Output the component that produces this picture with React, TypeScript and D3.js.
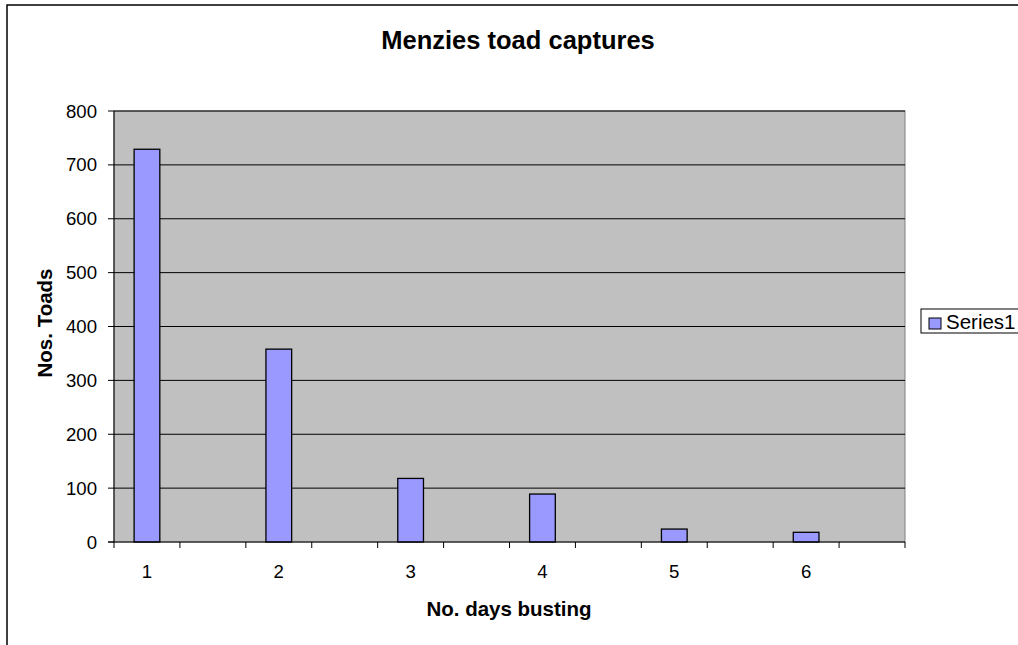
import React from 'react';
import * as d3 from 'd3';

// 12 category slots; only every other one holds a value
const categories = ['1', '', '2', '', '3', '', '4', '', '5', '', '6', ''];
const toadCounts: (number | null)[] = [729, null, 358, null, 118, null, 89, null, 24, null, 18, null];
const yTicks = [0, 100, 200, 300, 400, 500, 600, 700, 800];
const seriesName = 'Series1';

const W = 1018;
const H = 645;
const margin = { left: 114, right: 113, top: 111, bottom: 103 };
const font = '"Liberation Sans", Arial, sans-serif';

export default function App() {
    const x = d3.scaleBand<number>()
        .domain(categories.map((_, i) => i))
        .range([margin.left, W - margin.right])
        .padding(0);
    const y = d3.scaleLinear()
        .domain([0, 800])
        .range([H - margin.bottom, margin.top]);

    const barW = x.step() * 0.39;
    const x0 = margin.left;
    const x1 = W - margin.right;
    const yBottom = y(0);
    const tickEdges = categories.map((_, i) => x(i) as number).concat([x1]);

    return (
        <div style={{ position: 'fixed', left: 0, top: 0 }}>
            <svg width={W} height={H} style={{ display: 'block', background: '#fff' }} fontFamily={font}>
                {/* chart area border (cropped on right/bottom) */}
                <rect x={7} y={5} width={W + 20} height={H + 20} fill="#fff" stroke="#000" strokeWidth={1.5} />

                <text x={518} y={49} textAnchor="middle" fontSize={25.5} fontWeight="bold">Menzies toad captures</text>

                {/* plot area */}
                <rect x={x0} y={y(800)} width={x1 - x0} height={yBottom - y(800)} fill="#C0C0C0" stroke="#808080" strokeWidth={1} />

                {/* gridlines */}
                {yTicks.filter(t => t > 0).map(t => (
                    <line key={'g' + t} x1={x0} x2={x1} y1={y(t)} y2={y(t)} stroke="#000" strokeWidth={1} />
                ))}

                {/* bars */}
                {toadCounts.map((v, i) => v == null ? null : (
                    <rect key={'b' + i}
                        x={(x(i) as number) + x.bandwidth() / 2 - barW / 2}
                        y={y(v)}
                        width={barW}
                        height={yBottom - y(v)}
                        fill="#9999FF" stroke="#000" strokeWidth={1.3} />
                ))}

                {/* y axis */}
                <line x1={x0} x2={x0} y1={y(800)} y2={yBottom} stroke="#000" strokeWidth={1} />
                {yTicks.map(t => (
                    <g key={'y' + t}>
                        <line x1={x0 - 6} x2={x0} y1={y(t)} y2={y(t)} stroke="#000" />
                        <text x={x0 - 17} y={y(t)} dy="0.35em" textAnchor="end" fontSize={18.6}>{t}</text>
                    </g>
                ))}

                {/* x axis */}
                <line x1={x0 - 6} x2={x1} y1={yBottom} y2={yBottom} stroke="#000" strokeWidth={1} />
                {tickEdges.map((tx, i) => (
                    <line key={'xt' + i} x1={tx} x2={tx} y1={yBottom} y2={yBottom + 6} stroke="#000" />
                ))}
                {categories.map((c, i) => c === '' ? null : (
                    <text key={'xl' + i} x={(x(i) as number) + x.bandwidth() / 2} y={578} textAnchor="middle" fontSize={18.6}>{c}</text>
                ))}

                <text x={509} y={616} textAnchor="middle" fontSize={20.5} fontWeight="bold">No. days busting</text>
                <text transform="translate(52,323) rotate(-90)" textAnchor="middle" fontSize={20.5} fontWeight="bold">Nos. Toads</text>

                {/* legend */}
                <rect x={921} y={309} width={120} height={24} fill="#fff" stroke="#000" strokeWidth={1} />
                <rect x={929} y={318} width={12} height={11} fill="#9999FF" stroke="#000" strokeWidth={1} />
                <text x={946} y={329} fontSize={20.5}>{seriesName}</text>
            </svg>
        </div>
    );
}
